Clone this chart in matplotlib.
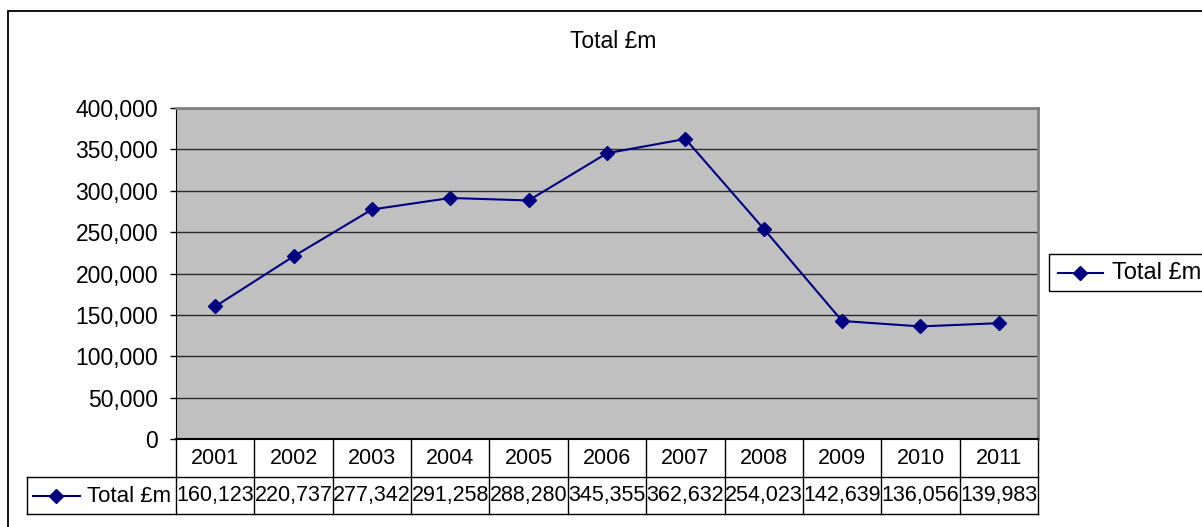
import matplotlib
matplotlib.use('Agg')
import matplotlib.pyplot as plt
import matplotlib.transforms as mtransforms
from matplotlib.lines import Line2D
from matplotlib.patches import Rectangle
from matplotlib.ticker import FuncFormatter

years = ['2001', '2002', '2003', '2004', '2005', '2006', '2007', '2008', '2009', '2010', '2011']
total = [160123, 220737, 277342, 291258, 288280, 345355, 362632, 254023, 142639, 136056, 139983]
series_name = 'Total £m'

W, H = 1202, 527
plt.rcParams['font.family'] = ['Liberation Sans', 'DejaVu Sans']

fig = plt.figure(figsize=(W / 100, H / 100), dpi=100)


def fx(px):
    return px / W


def fy(py):
    return 1 - py / H


# plot area in pixels
L, T, R, B = 176, 108, 1038, 439
ax = fig.add_axes([fx(L), fy(B), (R - L) / W, (B - T) / H])
ax.set_facecolor('#c0c0c0')

navy = '#000080'
xs = list(range(len(years)))
ax.plot(xs, total, color=navy, lw=1.5, marker='D', ms=7, mfc=navy, mec=navy, zorder=3)

ax.set_xlim(-0.5, len(years) - 0.5)
ax.set_ylim(0, 400000)
ax.set_yticks(range(0, 400001, 50000))
ax.yaxis.set_major_formatter(FuncFormatter(lambda v, p: f'{int(v):,}'))
ax.set_xticks([])
ax.grid(axis='y', color='#2a2a2a', lw=1)
ax.set_axisbelow(True)
for s in ['top', 'right']:
    ax.spines[s].set_color('#808080')
    ax.spines[s].set_linewidth(2)
ax.spines['left'].set_color('black')
ax.spines['bottom'].set_color('black')
ax.spines['bottom'].set_linewidth(1.5)
ax.tick_params(axis='y', direction='out', length=4.3, width=1, labelsize=16.5, pad=8.5, colors='black')


def ay(py):
    return (B - py) / (B - T)


def axx(px):
    return (px - L) / (R - L)


bt = mtransforms.blended_transform_factory(ax.transData, ax.transAxes)
lk = dict(color='black', lw=1, clip_on=False)

# data table
for i in range(len(years) + 1):
    ax.add_line(Line2D([i - 0.5, i - 0.5], [0, ay(514)], transform=bt, **lk))
ax.add_line(Line2D([axx(27), 1], [ay(477), ay(477)], transform=ax.transAxes, **lk))
ax.add_line(Line2D([axx(27), 1], [ay(514), ay(514)], transform=ax.transAxes, **lk))
ax.add_line(Line2D([axx(27), axx(27)], [ay(477), ay(514)], transform=ax.transAxes, **lk))

for i, (yr, v) in enumerate(zip(years, total)):
    ax.text(i, ay(458), yr, transform=bt, ha='center', va='center', fontsize=15.5, clip_on=False)
    ax.text(i, ay(496), f'{v:,}', transform=bt, ha='center', va='center', fontsize=15.5, clip_on=False)

ax.add_line(Line2D([axx(33), axx(80)], [ay(496), ay(496)], transform=ax.transAxes,
                   color=navy, lw=1.5, clip_on=False))
ax.add_line(Line2D([axx(56)], [ay(496)], transform=ax.transAxes, marker='D', ms=7,
                   mfc=navy, mec=navy, clip_on=False))
ax.text(axx(87), ay(496), series_name, transform=ax.transAxes, ha='left', va='center',
        fontsize=16, clip_on=False)

# title
fig.text(fx(613), fy(41), series_name, ha='center', va='center', fontsize=16.5)

# legend (runs off the right edge)
fig.patches.append(Rectangle((fx(1049), fy(291)), (1230 - 1049) / W, (291 - 254) / H,
                             transform=fig.transFigure, fill=False, ec='black', lw=1))
fig.add_artist(Line2D([fx(1058), fx(1103)], [fy(273), fy(273)], transform=fig.transFigure,
                      color=navy, lw=1.5))
fig.add_artist(Line2D([fx(1080)], [fy(273)], transform=fig.transFigure, marker='D', ms=7,
                      mfc=navy, mec=navy))
fig.text(fx(1112), fy(273), series_name, ha='left', va='center', fontsize=17)

# outer chart border
fig.patches.append(Rectangle((fx(8), fy(560)), (1240 - 8) / W, (560 - 11) / H,
                             transform=fig.transFigure, fill=False, ec='black', lw=1.3))

fig.savefig('out.png', dpi=100)
